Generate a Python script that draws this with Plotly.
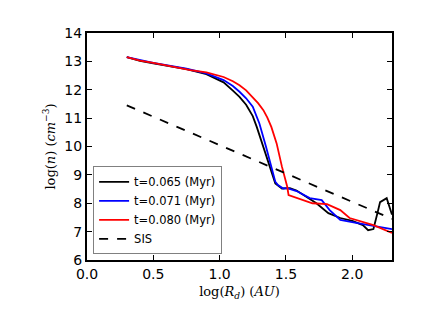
import plotly.graph_objects as go

# profils de densite
x_065 = [0.30, 0.40, 0.50, 0.75, 0.90, 1.03, 1.10, 1.15, 1.20, 1.25, 1.28, 1.33, 1.38, 1.42, 1.47, 1.53,
         1.58, 1.65, 1.73, 1.82, 1.91, 2.00, 2.08, 2.12, 2.16, 2.19, 2.21, 2.26, 2.29, 2.30]
y_065 = [13.15, 13.02, 12.93, 12.73, 12.55, 12.26, 11.97, 11.75, 11.47, 11.07, 10.69, 9.99, 9.29, 8.70, 8.52, 8.53,
         8.45, 8.25, 8.00, 7.65, 7.48, 7.38, 7.23, 7.05, 7.09, 7.65, 8.04, 8.18, 7.76, 7.60]

x_071 = [0.30, 0.40, 0.50, 0.75, 0.90, 1.03, 1.10, 1.15, 1.20, 1.25, 1.30, 1.35, 1.39, 1.42, 1.44, 1.48, 1.51, 1.58,
         1.68, 1.72, 1.77, 1.83, 1.91, 2.04, 2.16, 2.30]
y_071 = [13.15, 13.04, 12.95, 12.74, 12.58, 12.34, 12.13, 11.93, 11.70, 11.40, 10.81, 9.99, 9.29, 8.76, 8.64, 8.52, 8.53, 8.43,
         8.18, 8.15, 8.11, 7.76, 7.41, 7.30, 7.20, 7.09]

x_080 = [0.30, 0.40, 0.50, 0.78, 0.90, 1.03, 1.10, 1.15, 1.20, 1.25, 1.29, 1.33, 1.36, 1.39, 1.43, 1.47, 1.51, 1.52, 1.60,
         1.70, 1.81, 1.91, 1.98, 2.08, 2.16, 2.30]
y_080 = [13.15, 13.03, 12.95, 12.69, 12.61, 12.45, 12.30, 12.16, 11.98, 11.75, 11.53, 11.28, 11.02, 10.69, 10.11, 9.29, 8.58, 8.29, 8.15,
         8.00, 7.97, 7.76, 7.48, 7.34, 7.23, 6.95]

x_sis = [0.30, 2.30]
y_sis = [11.45, 7.45]

series = [
    (x_065, y_065, "t=0.065 (Myr)", dict(color="black", width=1.8)),
    (x_071, y_071, "t=0.071 (Myr)", dict(color="blue", width=1.8)),
    (x_080, y_080, "t=0.080 (Myr)", dict(color="red", width=1.8)),
    (x_sis, y_sis, "SIS", dict(color="black", width=1.8, dash="dash")),
]

fig = go.Figure()
for xs, ys, nom, style in series:
    fig.add_trace(go.Scatter(x=xs, y=ys, mode="lines", name=nom, line=style))

axe = dict(
    showline=True, linecolor="black", linewidth=2, mirror="ticks",
    ticks="inside", ticklen=5, tickcolor="black", tickwidth=1,
    showgrid=False, zeroline=False, automargin=False,
    tickfont=dict(family="DejaVu Sans", size=14, color="black"),
)

# la page html ajoute 8 px de marge autour de la figure
fig.update_layout(
    width=428, height=319,
    margin=dict(l=79, r=44, t=25, b=67),
    paper_bgcolor="white", plot_bgcolor="white",
    xaxis=dict(axe, range=[0, 2.3], tickvals=[0, 0.5, 1.0, 1.5, 2.0], tickformat=".1f",
               title=dict(text="log(<i>R<sub>d</sub></i>) (<i>AU</i>)", standoff=6,
                          font=dict(family="DejaVu Serif", size=13, color="black"))),
    yaxis=dict(axe, range=[6, 14], dtick=1,
               title=dict(text="log(<i>n</i>) (<i>cm</i><sup>−3</sup>)", standoff=6,
                          font=dict(family="DejaVu Serif", size=13, color="black"))),
    legend=dict(x=0.02, y=0.025, xanchor="left", yanchor="bottom",
                bordercolor="gray", borderwidth=1, bgcolor="white",
                font=dict(family="DejaVu Sans", size=11.5, color="black"),
                tracegroupgap=0, itemwidth=30),
    showlegend=True,
)

fig.write_html("out.html")
